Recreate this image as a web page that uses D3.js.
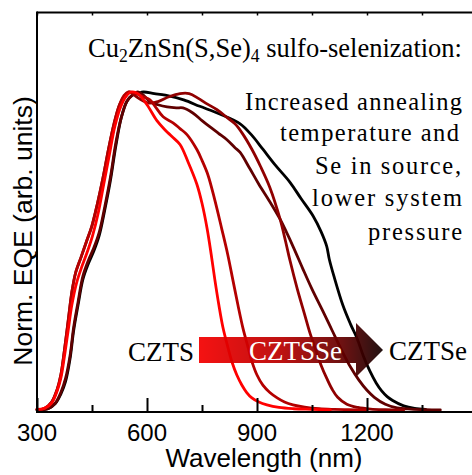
<!DOCTYPE html>
<html>
<head>
<meta charset="utf-8">
<script src="https://cdn.jsdelivr.net/npm/d3@7/dist/d3.min.js"></script>
<style>
  html, body { margin: 0; padding: 0; background: #fff; }
  svg { display: block; }
</style>
</head>
<body>
<svg id="chart" width="472" height="475"></svg>
<script>
// ---------- DATA (wavelength nm, normalized EQE) ----------
const xMajorTicks = [300, 600, 900, 1200, 1500];
const xMinorTicks = [450, 750, 1050, 1350];
const xTickLabels = [300, 600, 900, 1200];

const curveBlack = [[300,0],[330,0.004],[350,0.02],[365,0.05],[378,0.09],[390,0.16],[400,0.25],[412,0.33],[425,0.41],[440,0.46],[455,0.5],[470,0.55],[485,0.63],[500,0.72],[515,0.83],[530,0.92],[545,0.97],[560,0.99],[575,0.995],[590,1.0],[620,0.995],[650,0.99],[700,0.975],[744,0.955],[800,0.93],[854,0.9],[885,0.865],[916,0.82],[950,0.77],[990,0.716],[1020,0.665],[1053,0.61],[1075,0.56],[1090,0.515],[1097,0.475],[1110,0.42],[1134,0.33],[1155,0.27],[1173,0.225],[1190,0.17],[1208,0.122],[1225,0.085],[1240,0.06],[1255,0.042],[1270,0.03],[1300,0.013],[1330,0.005],[1360,0.002]];

const curveA = [[300,0],[330,0.004],[350,0.022],[365,0.055],[378,0.1],[390,0.17],[400,0.26],[412,0.34],[425,0.42],[440,0.47],[455,0.51],[470,0.56],[485,0.64],[500,0.73],[515,0.84],[530,0.92],[545,0.97],[560,0.99],[575,1.0],[590,0.99],[608,0.97],[630,0.96],[655,0.953],[680,0.95],[698,0.95],[725,0.934],[750,0.91],[772,0.89],[795,0.87],[818,0.85],[840,0.825],[854,0.81],[880,0.76],[905,0.71],[935,0.655],[963,0.6],[980,0.56],[1000,0.51],[1025,0.444],[1050,0.38],[1080,0.31],[1105,0.25],[1130,0.19],[1155,0.135],[1178,0.094],[1200,0.062],[1220,0.04],[1250,0.018],[1282,0.007],[1320,0.003],[1360,0.001],[1400,0]];

const curveB = [[300,0.002],[320,0.005],[340,0.025],[355,0.065],[365,0.11],[375,0.19],[385,0.28],[395,0.37],[405,0.43],[420,0.48],[435,0.53],[450,0.58],[465,0.65],[480,0.73],[495,0.82],[510,0.9],[525,0.96],[540,0.99],[552,1.0],[565,0.99],[585,0.975],[605,0.965],[630,0.97],[660,0.985],[690,0.995],[715,0.995],[740,0.98],[760,0.965],[790,0.945],[818,0.92],[840,0.9],[860,0.87],[886,0.82],[910,0.765],[935,0.7],[963,0.6],[978,0.53],[990,0.47],[1010,0.38],[1030,0.3],[1045,0.24],[1060,0.19],[1075,0.14],[1090,0.1],[1105,0.065],[1120,0.04],[1145,0.018],[1175,0.008],[1210,0.003],[1250,0.001],[1300,0]];

const curveC2 = [[300,0.002],[320,0.005],[340,0.025],[355,0.065],[365,0.11],[375,0.19],[385,0.28],[395,0.37],[405,0.43],[420,0.48],[435,0.53],[450,0.58],[465,0.65],[480,0.73],[495,0.82],[510,0.9],[525,0.96],[538,0.99],[548,1.0],[570,0.995],[590,0.985],[608,0.975],[625,0.95],[644,0.922],[671,0.903],[690,0.885],[709,0.866],[736,0.819],[750,0.785],[766,0.74],[785,0.66],[804,0.569],[820,0.49],[834,0.41],[848,0.33],[862,0.256],[875,0.2],[886,0.153],[900,0.11],[916,0.078],[935,0.055],[955,0.038],[975,0.025],[998,0.016],[1030,0.009],[1070,0.004],[1110,0.002],[1150,0.001],[1200,0]];

const curveCZTS = [[300,0.002],[320,0.005],[340,0.022],[355,0.06],[365,0.1],[375,0.17],[385,0.25],[395,0.33],[408,0.4],[422,0.45],[438,0.5],[452,0.55],[467,0.62],[482,0.71],[497,0.8],[512,0.89],[527,0.95],[542,0.985],[557,1.0],[575,0.995],[600,0.96],[627,0.91],[650,0.88],[668,0.86],[690,0.835],[712,0.78],[736,0.71],[750,0.65],[764,0.57],[775,0.49],[785,0.41],[796,0.33],[807,0.26],[820,0.2],[832,0.15],[845,0.11],[859,0.078],[872,0.055],[886,0.038],[905,0.025],[927,0.016],[960,0.008],[1000,0.004],[1050,0.002],[1100,0]];

const seriesNames = ["black", "A", "B", "C2", "CZTS"];
const seriesColors = ["#000000", "#600000", "#900000", "#b40000", "#ff0000"];
const seriesData = [curveBlack, curveA, curveB, curveC2, curveCZTS];

// ---------- LAYOUT ----------
const svg = d3.select("#chart");
const plotL = 37, plotR = 477, plotT = 12.5, plotB = 412;
const x = d3.scaleLinear().domain([300, 1500]).range([plotL, plotR]);
const y = d3.scaleLinear().domain([0, 1.25]).range([410, 12.5]);

const sans = "'Liberation Sans', Arial, sans-serif";
const serif = "'Liberation Serif', 'Times New Roman', serif";

// arrow gradient
const defs = svg.append("defs");
const grad = defs.append("linearGradient").attr("id", "arrowGrad")
  .attr("gradientUnits", "userSpaceOnUse")
  .attr("x1", 199).attr("x2", 383).attr("y1", 0).attr("y2", 0);
[[0, "#f40000"], [0.45, "#b80000"], [0.78, "#620000"], [1, "#120000"]].forEach(([o, c]) =>
  grad.append("stop").attr("offset", o).attr("stop-color", c));

// curves
const line = d3.line().x(d => x(d[0])).y(d => y(d[1])).curve(d3.curveCatmullRom.alpha(0.5));
seriesData.forEach((data, i) => {
  svg.append("path").datum(data)
    .attr("d", line)
    .attr("fill", "none")
    .attr("stroke", seriesColors[i])
    .attr("stroke-width", 2.8)
    .attr("stroke-linejoin", "round")
    .attr("stroke-linecap", "round");
});

// arrow
svg.append("path")
  .attr("d", "M199,337 L356,337 L356,323 L383,350 L356,377 L356,363 L199,363 Z")
  .attr("fill", "url(#arrowGrad)")
  .attr("opacity", 0.93);

// axes frame
const axisG = svg.append("g");
axisG.append("line").attr("x1", plotL).attr("x2", 472).attr("y1", plotB).attr("y2", plotB)
  .attr("stroke", "#000").attr("stroke-width", 2);
axisG.append("line").attr("x1", plotL).attr("x2", 472).attr("y1", plotT).attr("y2", plotT)
  .attr("stroke", "#000").attr("stroke-width", 2);
axisG.append("line").attr("x1", plotL).attr("x2", plotL).attr("y1", plotT - 1).attr("y2", plotB + 1)
  .attr("stroke", "#000").attr("stroke-width", 2);

// bottom ticks (inward)
const bottomAxis = d3.axisTop(x).tickValues(xMajorTicks.concat(xMinorTicks)).tickSizeInner(0).tickSizeOuter(0).tickFormat("");
const bg = svg.append("g").attr("transform", `translate(0,${plotB})`).call(bottomAxis);
bg.select(".domain").remove();
bg.selectAll(".tick line")
  .attr("y2", d => xMajorTicks.includes(d) ? -14 : -7)
  .attr("stroke", "#000").attr("stroke-width", 2);

// top ticks (short, inward)
const topAxis = d3.axisBottom(x).tickValues(xMajorTicks.concat(xMinorTicks)).tickSizeInner(3).tickSizeOuter(0).tickFormat("");
const tg = svg.append("g").attr("transform", `translate(0,${plotT})`).call(topAxis);
tg.select(".domain").remove();
tg.selectAll(".tick line").attr("stroke", "#000").attr("stroke-width", 1.5);

// tick labels
svg.append("g").selectAll("text").data(xTickLabels).join("text")
  .attr("x", d => x(d)).attr("y", 441)
  .attr("text-anchor", "middle")
  .attr("font-family", sans).attr("font-size", 24)
  .text(d => d);

// axis titles
svg.append("text").attr("x", 264).attr("y", 467).attr("text-anchor", "middle")
  .attr("font-family", sans).attr("font-size", 26).text("Wavelength (nm)");
svg.append("text").attr("transform", "translate(31.5,231) rotate(-90)").attr("text-anchor", "middle")
  .attr("font-family", sans).attr("font-size", 26.5).text("Norm. EQE (arb. units)");

// title annotation
const t = svg.append("text").attr("x", 88).attr("y", 57)
  .attr("font-family", serif).attr("font-size", 27)
  .attr("textLength", 374).attr("lengthAdjust", "spacingAndGlyphs");
t.append("tspan").text("Cu");
t.append("tspan").attr("font-size", 18).attr("dy", 5).text("2");
t.append("tspan").attr("dy", -5).text("ZnSn(S,Se)");
t.append("tspan").attr("font-size", 18).attr("dy", 5).text("4");
t.append("tspan").attr("dy", -5).text(" sulfo-selenization:");

// description lines
const descLines = [
  { s: "Increased annealing", x: 245, y: 110, w: 217 },
  { s: "temperature and", x: 280, y: 141, w: 179 },
  { s: "Se in source,", x: 315, y: 174, w: 146 },
  { s: "lower system", x: 312, y: 206, w: 150 },
  { s: "pressure", x: 368, y: 240, w: 94 }
];
svg.append("g").selectAll("text").data(descLines).join("text")
  .attr("x", d => d.x).attr("y", d => d.y)
  .attr("font-family", serif).attr("font-size", 24.5)
  .attr("textLength", d => d.w).attr("lengthAdjust", "spacing")
  .text(d => d.s);

// arrow labels
svg.append("text").attr("x", 194).attr("y", 361).attr("text-anchor", "end")
  .attr("font-family", serif).attr("font-size", 27).text("CZTS");
svg.append("text").attr("x", 249).attr("y", 360)
  .attr("font-family", serif).attr("font-size", 27).attr("fill", "#fff")
  .attr("textLength", 93).attr("lengthAdjust", "spacingAndGlyphs").text("CZTSSe");
svg.append("text").attr("x", 389).attr("y", 360)
  .attr("font-family", serif).attr("font-size", 27)
  .attr("textLength", 78).attr("lengthAdjust", "spacingAndGlyphs").text("CZTSe");
</script>
</body>
</html>
